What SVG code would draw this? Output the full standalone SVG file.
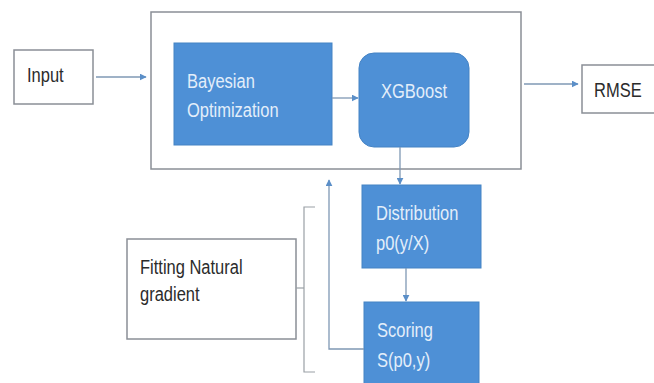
<svg xmlns="http://www.w3.org/2000/svg" width="654" height="383" viewBox="0 0 654 383">
<style>
.wbox{fill:#fff;stroke:#8a8f96;stroke-width:1.5}
.bbox{fill:#4e90d6;stroke:#4583c4;stroke-width:1}
.dt{font-family:"Liberation Sans",Arial,sans-serif;font-size:16.5px;fill:#2b2b2b}
.lt{font-family:"Liberation Sans",Arial,sans-serif;font-size:16.5px;fill:#e3eefa}
.ln{fill:none;stroke:#7f98b4;stroke-width:1.3}
.br{fill:none;stroke:#9aa0a6;stroke-width:1.2}
</style>
<defs>
<marker id="ah" viewBox="0 0 10 10" refX="9" refY="5" markerWidth="7" markerHeight="7" markerUnits="userSpaceOnUse" orient="auto">
<path d="M0,0 L10,5 L0,10 z" fill="#5b8fc8"/>
</marker>
</defs>
<rect width="654" height="383" fill="#fff"/>
<g id="outer"><rect class="wbox" x="151" y="12" width="370" height="157"/></g>
<g id="input"><rect class="wbox" x="14" y="50" width="79" height="54"/><text class="dt" transform="translate(27,82) scale(1,1.25)">Input</text></g>
<g id="bayesian"><rect class="bbox" x="174" y="43" width="158" height="102"/><text class="lt" transform="translate(187,88) scale(1,1.25)">Bayesian</text><text class="lt" transform="translate(187,117) scale(1,1.25)">Optimization</text></g>
<g id="xgboost"><rect class="bbox" x="359" y="53" width="110" height="94" rx="15"/><text class="lt" text-anchor="middle" transform="translate(414,98) scale(1,1.25)">XGBoost</text></g>
<g id="rmse"><rect class="wbox" x="582" y="65" width="75" height="48"/><text class="dt" transform="translate(594,97) scale(1,1.25)">RMSE</text></g>
<g id="distribution"><rect class="bbox" x="362" y="185" width="119" height="83"/><text class="lt" transform="translate(376,220) scale(1,1.25)">Distribution</text><text class="lt" transform="translate(376,250) scale(1,1.25)">p0(y/X)</text></g>
<g id="scoring"><rect class="bbox" x="364" y="302" width="115" height="85"/><text class="lt" transform="translate(377,337) scale(1,1.25)">Scoring</text><text class="lt" transform="translate(377,367) scale(1,1.25)">S(p0,y)</text></g>
<g id="fitting"><rect class="wbox" x="127" y="239" width="169" height="100"/><text class="dt" transform="translate(140,274) scale(1,1.25)">Fitting Natural</text><text class="dt" transform="translate(140,301) scale(1,1.25)">gradient</text></g>
<g id="connectors">
<line class="ln" x1="96" y1="77" x2="146" y2="77" marker-end="url(#ah)"/>
<line class="ln" x1="332" y1="98" x2="358" y2="98" marker-end="url(#ah)"/>
<line class="ln" x1="524" y1="84" x2="578" y2="84" marker-end="url(#ah)"/>
<line class="ln" x1="400" y1="147" x2="400" y2="184" marker-end="url(#ah)"/>
<line class="ln" x1="406" y1="268" x2="406" y2="301" marker-end="url(#ah)"/>
<polyline class="ln" points="364,349 329,349 329,180" marker-end="url(#ah)"/>
<polyline class="br" points="315,207 304,207 304,372 315,372"/>
<line class="br" x1="296" y1="288" x2="304" y2="288"/>
</g>
</svg>
